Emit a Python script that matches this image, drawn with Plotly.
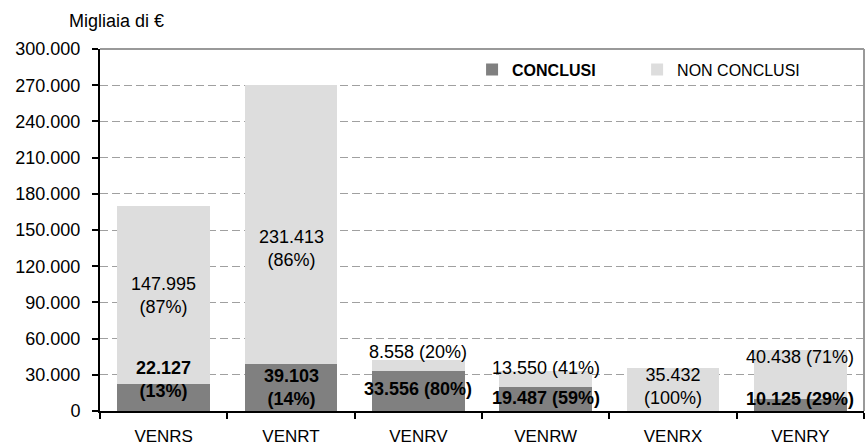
import plotly.graph_objects as go

categories = ["VENRS", "VENRT", "VENRV", "VENRW", "VENRX", "VENRY"]
conclusi = [22127, 39103, 33556, 19487, 0, 10125]
non_conclusi = [147995, 231413, 8558, 13550, 35432, 40438]
pct_conclusi = [13, 14, 80, 59, 0, 29]
pct_non = [87, 86, 20, 41, 100, 71]
y_ticks = list(range(0, 300001, 30000))

DARK = "#808080"
LIGHT = "#dddddd"
FONT = "Liberation Sans, Arial, sans-serif"


def fmt(v):
    return f"{v:,}".replace(",", ".")


fig = go.Figure()
fig.add_trace(go.Bar(x=categories, y=conclusi, name="<b>CONCLUSI</b>",
                     marker=dict(color=DARK, line=dict(width=0)), legend="legend"))
fig.add_trace(go.Bar(x=categories, y=non_conclusi, name="NON CONCLUSI",
                     marker=dict(color=LIGHT, line=dict(width=0)), legend="legend2"))

# label placement: (base, yshift, two_lines)
light_place = [("mid", 0, True), ("mid", -24, True), ("top", 8, False),
               ("top", 3, False), ("mid", 3, True), ("top", -7, False)]
dark_place = [("top", 5, True), ("mid", 0, True), ("mid", 2, False),
              ("mid", 1, False), None, ("top", 0, False)]

LBL = 18
ann = []
for i, c in enumerate(categories):
    lp = light_place[i]
    base = conclusi[i] + (non_conclusi[i] / 2 if lp[0] == "mid" else non_conclusi[i])
    sep = "<br>" if lp[2] else " "
    ann.append(dict(x=c, y=base, yshift=lp[1], text=f"{fmt(non_conclusi[i])}{sep}({pct_non[i]}%)",
                    showarrow=False, yanchor="middle", xanchor="center",
                    font=dict(size=LBL, color="black", family=FONT)))
    dp = dark_place[i]
    if dp is not None and conclusi[i] > 0:
        base = conclusi[i] / 2 if dp[0] == "mid" else conclusi[i]
        sep = "<br>" if dp[2] else " "
        ann.append(dict(x=c, y=base, yshift=dp[1],
                        text=f"<b>{fmt(conclusi[i])}{sep}({pct_conclusi[i]}%)</b>",
                        showarrow=False, yanchor="middle", xanchor="center",
                        font=dict(size=LBL, color="black", family=FONT)))

ann.append(dict(x=-0.0432, y=1.076, xref="paper", yref="paper", xanchor="left", yanchor="middle",
                text="Migliaia di €", showarrow=False, font=dict(size=18, color="black", family=FONT)))

fig.update_layout(
    width=865, height=448,
    margin=dict(l=100, r=1, t=49, b=37, autoexpand=False),
    barmode="stack", bargap=0.27,
    plot_bgcolor="white", paper_bgcolor="white",
    separators=",.",
    font=dict(family=FONT, size=17, color="black"),
    annotations=ann,
    showlegend=True,
    legend=dict(x=0.487, y=0.99, xanchor="left", yanchor="top", orientation="h",
                bgcolor="rgba(0,0,0,0)", font=dict(size=16), itemwidth=30),
    legend2=dict(x=0.703, y=0.99, xanchor="left", yanchor="top", orientation="h",
                 bgcolor="rgba(0,0,0,0)", font=dict(size=16), itemwidth=30),
    xaxis=dict(type="category", range=[-0.5, 5.5], showline=True, linecolor="black", linewidth=2,
               ticks="outside", tickson="boundaries", ticklen=6, tickcolor="black", tickwidth=2,
               showgrid=False, tickfont=dict(size=17), ticklabelstandoff=9, automargin=False),
    xaxis2=dict(overlaying="x", anchor="y", range=[-0.5, 5.5], tickmode="array",
                tickvals=list(range(len(categories))), ticks="inside", ticklen=5, tickwidth=2,
                tickcolor="#444", showticklabels=False, showgrid=False, showline=False,
                zeroline=False, automargin=False),
    yaxis=dict(range=[0, 300000], tickvals=y_ticks, tickformat=",d", showline=True,
               linecolor="black", linewidth=2, ticks="outside", ticklen=6, tickcolor="black",
               tickwidth=2, showgrid=True, gridcolor="#a0a0a0", griddash="8px,4px", gridwidth=1,
               zeroline=False, tickfont=dict(size=18), ticklabelstandoff=8, automargin=False),
    shapes=[
        dict(type="line", xref="paper", yref="paper", x0=0, x1=1, y0=1, y1=1,
             line=dict(color="#999999", width=2)),
        dict(type="line", xref="paper", yref="paper", x0=1, x1=1, y0=0, y1=1,
             line=dict(color="#999999", width=2)),
    ],
)

fig.write_html("out.html", config={"displayModeBar": False})

with open("out.html", encoding="utf-8") as f:
    html = f.read()
html = html.replace("<body>", '<body style="margin:0;padding:0;overflow:hidden">', 1)
with open("out.html", "w", encoding="utf-8") as f:
    f.write(html)
